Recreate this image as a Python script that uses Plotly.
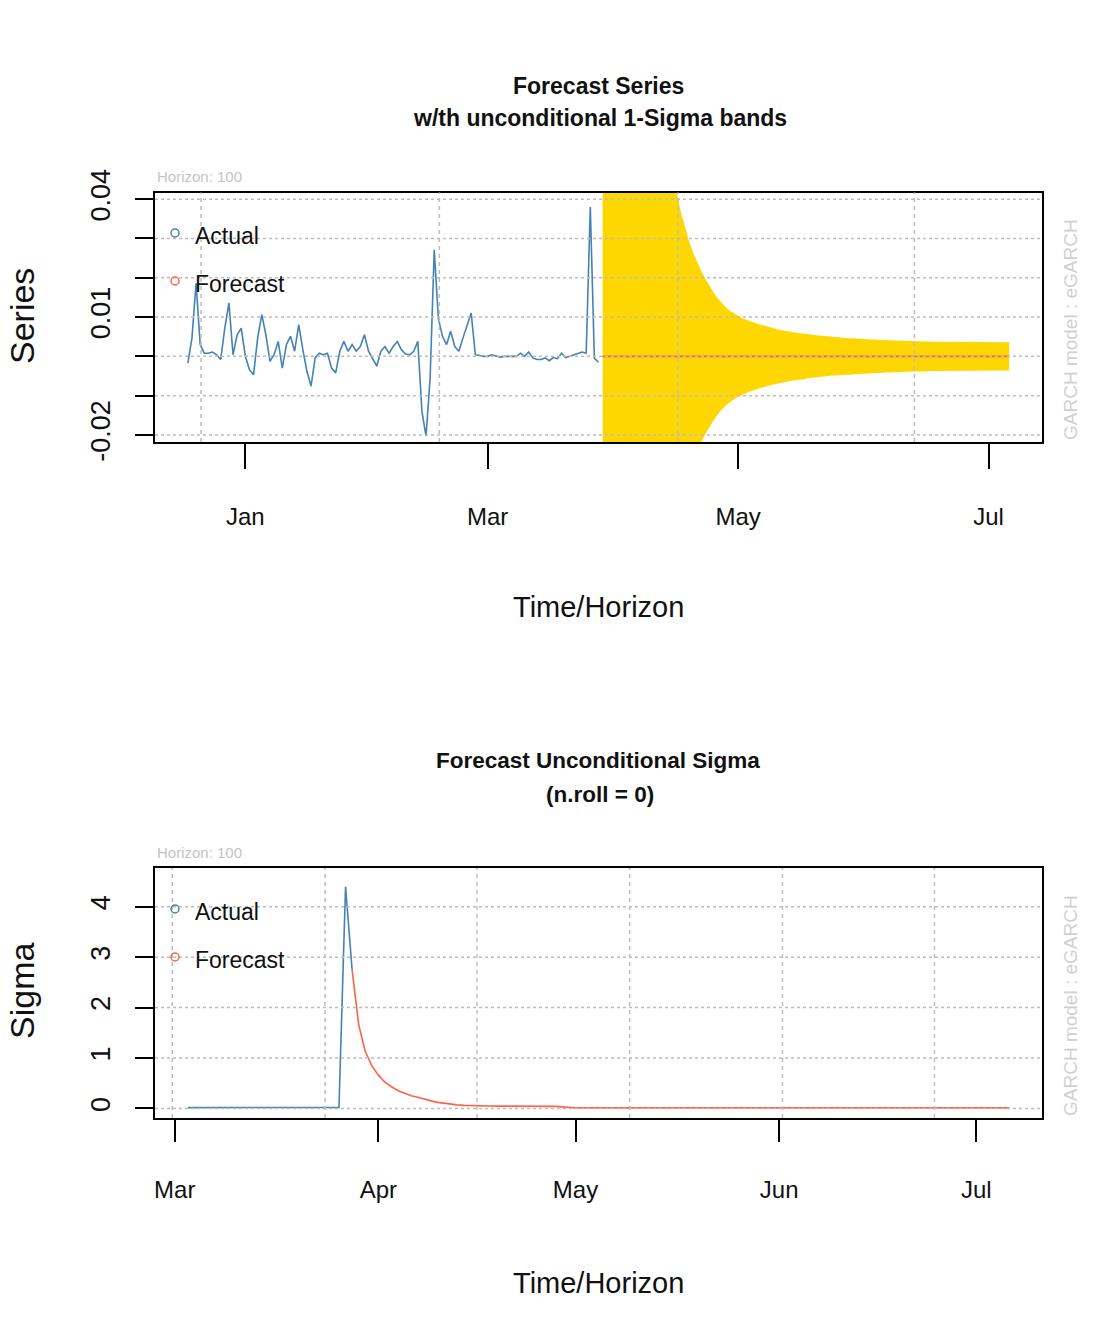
import pandas as pd
import plotly.graph_objects as go

W, H = 1110, 1342

# ---------------- data ----------------
actual_start = "2022-12-18"
actual_series = [
    -0.0017, 0.0047, 0.0186, 0.0030, 0.0008, 0.0008, 0.0011, 0.0004, -0.0008, 0.0072,
    0.0136, 0.0004, 0.0055, 0.0072, 0.0000, -0.0034, -0.0047, 0.0047, 0.0106, 0.0055,
    -0.0013, 0.0004, 0.0038, -0.0030, 0.0030, 0.0051, 0.0013, 0.0081, 0.0017, -0.0038,
    -0.0076, -0.0004, 0.0008, 0.0004, 0.0008, -0.0030, -0.0042, 0.0013, 0.0038, 0.0013,
    0.0030, 0.0013, 0.0025, 0.0055, 0.0013, -0.0008, -0.0025, 0.0013, 0.0025, 0.0008,
    0.0025, 0.0038, 0.0017, 0.0006, 0.0004, 0.0013, 0.0038, -0.0140, -0.0203, -0.0055,
    0.0271, 0.0097, 0.0051, 0.0030, 0.0064, 0.0025, 0.0013, 0.0047, 0.0081, 0.0110,
    0.0004, 0.0003, 0.0000, 0.0000, 0.0004, 0.0000, -0.0002, 0.0000, 0.0000, 0.0000,
    0.0000, 0.0008, 0.0000, 0.0011, -0.0004, -0.0008, -0.0008, -0.0004, -0.0011, -0.0003,
    -0.0006, 0.0008, -0.0003, 0.0000, 0.0004, 0.0008, 0.0011, 0.0008, 0.0380, -0.0005,
    -0.0015,
]

forecast_start = "2023-03-29"
forecast_mean = [
    0.0, 0.0, 0.0, 0.0, 0.0, 0.0, 0.0, 0.0, 0.0, 0.0,
    0.0, 0.0, 0.0, 0.0, 0.0, 0.0, 0.0, 0.0, 0.0, 0.0,
    0.0, 0.0, 0.0, 0.0, 0.0, 0.0, 0.0, 0.0, 0.0, 0.0,
    0.0, 0.0, 0.0, 0.0, 0.0, 0.0, 0.0, 0.0, 0.0, 0.0,
    0.0, 0.0, 0.0, 0.0, 0.0, 0.0, 0.0, 0.0, 0.0, 0.0,
    0.0, 0.0, 0.0, 0.0, 0.0, 0.0, 0.0, 0.0, 0.0, 0.0,
    0.0, 0.0, 0.0, 0.0, 0.0, 0.0, 0.0, 0.0, 0.0, 0.0,
    0.0, 0.0, 0.0, 0.0, 0.0, 0.0, 0.0, 0.0, 0.0, 0.0,
    0.0, 0.0, 0.0, 0.0, 0.0, 0.0, 0.0, 0.0, 0.0, 0.0,
    0.0, 0.0, 0.0, 0.0, 0.0, 0.0, 0.0, 0.0, 0.0, 0.0,
]
# unconditional 1-sigma band half-width
forecast_band_sigma = [
    0.280, 0.250, 0.222, 0.198, 0.177, 0.158, 0.141, 0.126, 0.113, 0.101,
    0.091, 0.082, 0.074, 0.067, 0.061, 0.055, 0.050, 0.046, 0.042, 0.037,
    0.0330, 0.0295, 0.0265, 0.0240, 0.0218, 0.0198, 0.0180, 0.0163, 0.0148, 0.0136,
    0.0125, 0.0116, 0.0109, 0.0103, 0.0097, 0.0093, 0.0089, 0.0085, 0.0082, 0.0079,
    0.0076, 0.0073, 0.0070, 0.0068, 0.0066, 0.0064, 0.0062, 0.0060, 0.0059, 0.0058,
    0.0056, 0.0055, 0.0054, 0.0053, 0.0051, 0.0050, 0.0049, 0.0048, 0.0048, 0.0047,
    0.0046, 0.0046, 0.0045, 0.0044, 0.0044, 0.0043, 0.0043, 0.0042, 0.0042, 0.0041,
    0.0041, 0.0040, 0.0040, 0.0040, 0.0039, 0.0039, 0.0039, 0.0038, 0.0038, 0.0038,
    0.0037, 0.0037, 0.0037, 0.0037, 0.0036, 0.0036, 0.0036, 0.0036, 0.0036, 0.0036,
    0.0036, 0.0036, 0.0036, 0.0036, 0.0036, 0.0036, 0.0036, 0.0036, 0.0036, 0.0036,
]

sigma_actual_start = "2023-03-03"
sigma_actual = [
    0.015, 0.015, 0.015, 0.015, 0.015, 0.015, 0.015, 0.015, 0.015, 0.015,
    0.015, 0.015, 0.015, 0.015, 0.015, 0.015, 0.015, 0.015, 0.015, 0.015,
    0.015, 0.015, 0.015, 0.020, 4.40, 2.75,
]
sigma_forecast = [
    1.66, 1.13, 0.85, 0.66, 0.52, 0.43, 0.35, 0.30, 0.25, 0.22,
    0.18, 0.15, 0.12, 0.10, 0.085, 0.070, 0.060, 0.054, 0.050, 0.048,
    0.047, 0.046, 0.046, 0.045, 0.045, 0.045, 0.044, 0.044, 0.044, 0.043,
    0.040, 0.030, 0.015, 0.010, 0.010, 0.010, 0.010, 0.010, 0.010, 0.010,
    0.010, 0.010, 0.010, 0.010, 0.010, 0.010, 0.010, 0.010, 0.010, 0.010,
    0.010, 0.010, 0.010, 0.010, 0.010, 0.010, 0.010, 0.010, 0.010, 0.010,
    0.010, 0.010, 0.010, 0.010, 0.010, 0.010, 0.010, 0.010, 0.010, 0.010,
    0.010, 0.010, 0.010, 0.010, 0.010, 0.010, 0.010, 0.010, 0.010, 0.010,
    0.010, 0.010, 0.010, 0.010, 0.010, 0.010, 0.010, 0.010, 0.010, 0.010,
    0.010, 0.010, 0.010, 0.010, 0.010, 0.010, 0.010, 0.010, 0.010, 0.010,
]

top_xtick_vals = ["2023-01-01", "2023-03-01", "2023-05-01", "2023-07-01"]
top_xtick_text = ["Jan", "Mar", "May", "Jul"]
top_ytick_vals = [-0.02, -0.01, 0.0, 0.01, 0.02, 0.03, 0.04]
top_ytick_text = ["-0.02", "", "", "0.01", "", "", "0.04"]
top_grid_x = ["2022-12-21 05:00", "2023-02-17 06:00", "2023-04-16 09:00", "2023-06-12 22:00"]
top_yrange = [-0.0218, 0.0417]

bot_xtick_vals = ["2023-03-01", "2023-04-01", "2023-05-01", "2023-06-01", "2023-07-01"]
bot_xtick_text = ["Mar", "Apr", "May", "Jun", "Jul"]
bot_ytick_vals = [0, 1, 2, 3, 4]
bot_ytick_text = ["0", "1", "2", "3", "4"]
bot_grid_x = ["2023-02-28 15:00", "2023-03-23 21:00", "2023-04-16 00:00",
              "2023-05-09 06:00", "2023-06-01 12:00", "2023-06-24 15:00"]
bot_yrange = [-0.19, 4.77]

# ---------------- derived ----------------
actual_dates = pd.date_range(actual_start, periods=len(actual_series), freq="D")
fc_dates = pd.date_range(forecast_start, periods=len(forecast_mean), freq="D")
band_up = [m + s for m, s in zip(forecast_mean, forecast_band_sigma)]
band_lo = [m - s for m, s in zip(forecast_mean, forecast_band_sigma)]
sig_dates = pd.date_range(sigma_actual_start, periods=len(sigma_actual), freq="D")
sigf_dates = pd.date_range(forecast_start, periods=len(sigma_forecast), freq="D")


def pad_range(first, last, frac=0.04):
    span = last - first
    return [first - frac * span, last + frac * span]


top_xrange = pad_range(actual_dates[0], fc_dates[-1])
bot_xrange = pad_range(sig_dates[0], sigf_dates[-1])

FONT = "Arial, Liberation Sans, sans-serif"
BLUE = "#4682B4"
RED = "#FF6347"
GOLD = "#FFD700"
GRID = "#bdbdbd"


def px(x):
    return x / W


def py(y):
    return 1 - y / H


fig = go.Figure()

# top panel
fig.add_trace(go.Scatter(
    x=list(fc_dates) + list(fc_dates[::-1]), y=band_up + band_lo[::-1],
    fill="toself", fillcolor=GOLD, line=dict(width=0), mode="lines",
    xaxis="x", yaxis="y", hoverinfo="skip", showlegend=False))
fig.add_trace(go.Scatter(
    x=actual_dates, y=actual_series, mode="lines",
    line=dict(color=BLUE, width=1.6), xaxis="x", yaxis="y", showlegend=False))
fig.add_trace(go.Scatter(
    x=fc_dates, y=forecast_mean, mode="lines",
    line=dict(color=RED, width=1.8), xaxis="x", yaxis="y", showlegend=False))

# bottom panel
fig.add_trace(go.Scatter(
    x=sig_dates, y=sigma_actual, mode="lines",
    line=dict(color=BLUE, width=1.6), xaxis="x2", yaxis="y2", showlegend=False))
fig.add_trace(go.Scatter(
    x=[sig_dates[-1]] + list(sigf_dates), y=[sigma_actual[-1]] + sigma_forecast,
    mode="lines", line=dict(color=RED, width=1.6),
    xaxis="x2", yaxis="y2", showlegend=False))

axis_common = dict(showline=True, mirror=True, linecolor="black", linewidth=2,
                   ticks="outside", tickcolor="black", tickwidth=2,
                   showgrid=False, zeroline=False, automargin=False,
                   fixedrange=True)

top_dom_y = [py(442), py(192.5)]
bot_dom_y = [py(1118), py(868)]
dom_x = [px(155), px(1042)]

fig.update_layout(
    width=W, height=H, autosize=False,
    margin=dict(l=0, r=0, t=0, b=0),
    paper_bgcolor="white", plot_bgcolor="white",
    font=dict(family=FONT, color="#111111"),
    xaxis=dict(domain=dom_x, anchor="y", type="date", range=top_xrange,
               tickmode="array", tickvals=top_xtick_vals, ticktext=top_xtick_text,
               ticklen=25, tickfont=dict(size=24), ticklabelstandoff=27,
               **axis_common),
    yaxis=dict(domain=top_dom_y, anchor="x", range=top_yrange,
               tickmode="array", tickvals=top_ytick_vals, ticktext=top_ytick_text,
               ticklen=18, tickangle=-90, tickfont=dict(size=27),
               ticklabelstandoff=14, **axis_common),
    xaxis2=dict(domain=dom_x, anchor="y2", type="date", range=bot_xrange,
                tickmode="array", tickvals=bot_xtick_vals, ticktext=bot_xtick_text,
                ticklen=22, tickfont=dict(size=24), ticklabelstandoff=27,
                **axis_common),
    yaxis2=dict(domain=bot_dom_y, anchor="x2", range=bot_yrange,
                tickmode="array", tickvals=bot_ytick_vals, ticktext=bot_ytick_text,
                ticklen=18, tickangle=-90, tickfont=dict(size=27),
                ticklabelstandoff=14, **axis_common),
)

shapes = []
for xa, ya, gx, gy in (("x", "y", top_grid_x, top_ytick_vals),
                       ("x2", "y2", bot_grid_x, bot_ytick_vals)):
    for d in gx:
        shapes.append(dict(type="line", xref=xa, yref=ya + " domain", x0=d, x1=d,
                           y0=0, y1=1, layer="above",
                           line=dict(color=GRID, width=1.5, dash="4px,4px")))
    for v in gy:
        shapes.append(dict(type="line", xref=xa + " domain", yref=ya, x0=0, x1=1,
                           y0=v, y1=v, layer="above",
                           line=dict(color=GRID, width=1.5, dash="3px,3px")))

annotations = []


def text(x, y, s, size, color="#111111", angle=0, xanchor="center", bold=False):
    annotations.append(dict(
        x=px(x), y=py(y), xref="paper", yref="paper", showarrow=False,
        text=f"<b>{s}</b>" if bold else s, textangle=angle,
        xanchor=xanchor, yanchor="middle",
        font=dict(family=FONT, size=size, color=color)))


# titles
text(598, 86, "Forecast Series", 23, bold=True)
text(600, 118, "w/th unconditional 1-Sigma bands", 23, bold=True)
text(598, 760, "Forecast Unconditional Sigma", 22.5, bold=True)
text(600, 794, "(n.roll = 0)", 22.5, bold=True)

# axis titles
text(598, 607, "Time/Horizon", 29)
text(598, 1283, "Time/Horizon", 29)
text(22, 316, "Series", 34, angle=-90)
text(22, 991, "Sigma", 34, angle=-90)

# horizon notes and model notes
text(155, 177, "Horizon: 100", 15, color="#c4c4c4", xanchor="left")
text(155, 853, "Horizon: 100", 15, color="#c4c4c4", xanchor="left")
text(1070, 330, "GARCH model : eGARCH", 19, color="#d0d0d0", angle=-90)
text(1070, 1006, "GARCH model : eGARCH", 19, color="#d0d0d0", angle=-90)

# legends
for (cy_a, cy_f) in ((233, 281), (909, 957)):
    for cy, lab, col in ((cy_a, "Actual", BLUE), (cy_f, "Forecast", RED)):
        shapes.append(dict(type="circle", xref="paper", yref="paper",
                           xsizemode="pixel", ysizemode="pixel",
                           xanchor=px(175), yanchor=py(cy),
                           x0=-4, x1=4, y0=-4, y1=4,
                           line=dict(color=col, width=1.5)))
        text(193, cy + 3, lab, 23, xanchor="left")

fig.update_layout(shapes=shapes, annotations=annotations)

fig.write_html("out.html")
